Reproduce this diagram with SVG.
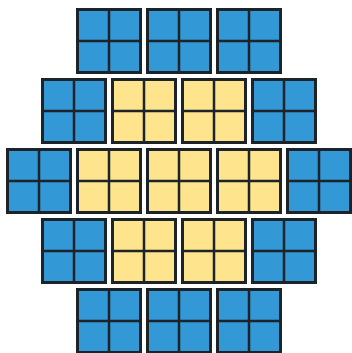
<svg xmlns="http://www.w3.org/2000/svg" width="352" height="353" viewBox="0 0 352 353">
<style>
.b{fill:#3399d6}
.y{fill:#fee48c}
.f{stroke:#1c2329;stroke-width:3}
.d{stroke:#1c2329;stroke-width:2.5;fill:none}
</style>
<defs>
<g id="blue"><rect class="b f" x="1.5" y="1.5" width="63" height="63"/><path class="d" d="M33 1.5V64.5M1.5 33H64.5"/></g>
<g id="yel"><rect class="y f" x="1.5" y="1.5" width="63" height="63"/><path class="d" d="M33 1.5V64.5M1.5 33H64.5"/></g>
</defs>
<rect width="352" height="353" fill="#fff"/>
<g id="r1c1"><use href="#blue" x="76" y="8"/></g>
<g id="r1c2"><use href="#blue" x="146" y="8"/></g>
<g id="r1c3"><use href="#blue" x="216" y="8"/></g>
<g id="r2c1"><use href="#blue" x="41" y="78"/></g>
<g id="r2c2"><use href="#yel" x="111" y="78"/></g>
<g id="r2c3"><use href="#yel" x="181" y="78"/></g>
<g id="r2c4"><use href="#blue" x="251" y="78"/></g>
<g id="r3c1"><use href="#blue" x="6" y="148"/></g>
<g id="r3c2"><use href="#yel" x="76" y="148"/></g>
<g id="r3c3"><use href="#yel" x="146" y="148"/></g>
<g id="r3c4"><use href="#yel" x="216" y="148"/></g>
<g id="r3c5"><use href="#blue" x="286" y="148"/></g>
<g id="r4c1"><use href="#blue" x="41" y="218"/></g>
<g id="r4c2"><use href="#yel" x="111" y="218"/></g>
<g id="r4c3"><use href="#yel" x="181" y="218"/></g>
<g id="r4c4"><use href="#blue" x="251" y="218"/></g>
<g id="r5c1"><use href="#blue" x="76" y="288"/></g>
<g id="r5c2"><use href="#blue" x="146" y="288"/></g>
<g id="r5c3"><use href="#blue" x="216" y="288"/></g>
<g id="connectors"/>
</svg>
